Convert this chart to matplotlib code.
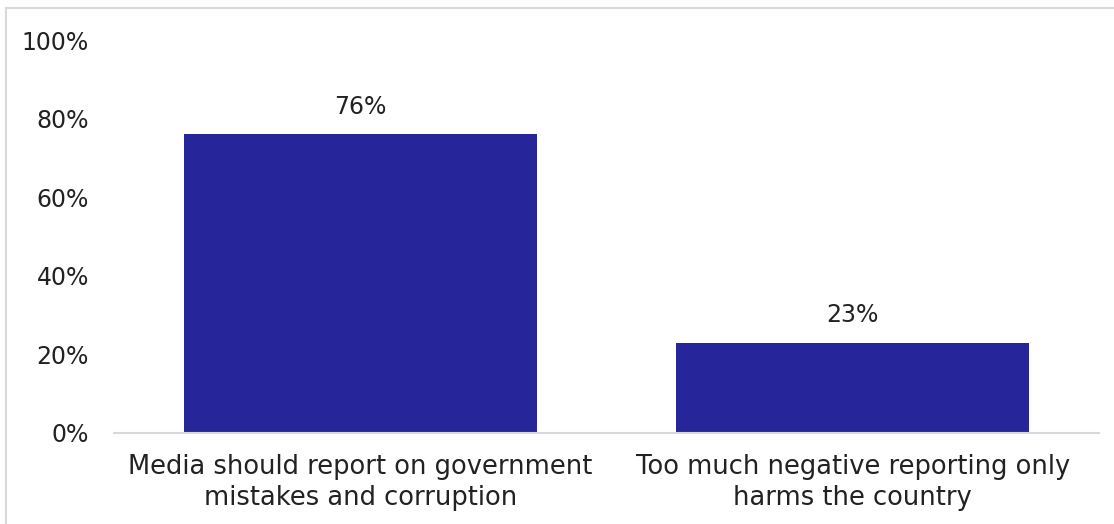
import matplotlib.pyplot as plt
from matplotlib.lines import Line2D

categories = ["Media should report on government\nmistakes and corruption",
              "Too much negative reporting only\nharms the country"]
values = [76, 23]
yticks = [0, 20, 40, 60, 80, 100]

plt.rcParams['font.family'] = ['DejaVu Sans']

fig = plt.figure(figsize=(11.14, 5.24), dpi=100)
ax = fig.add_axes([114 / 1114, 1 - 433 / 524, (1099 - 114) / 1114, (433 - 40) / 524])

x = range(len(categories))
bars = ax.bar(x, values, width=0.717, color='#26269A')
for b, v in zip(bars, values):
    ax.text(b.get_x() + b.get_width() / 2, v + 4, f"{v}%", ha='center', va='bottom',
            fontsize=17, color='#222222')

ax.set_xlim(-0.5, 1.5)
ax.set_ylim(0, 100)
ax.set_yticks(yticks)
ax.set_yticklabels([f"{t}%" for t in yticks], fontsize=17, color='#222222')
ax.set_xticks(list(x))
ax.set_xticklabels(categories, fontsize=18.5, color='#222222', linespacing=1.25)
ax.tick_params(axis='both', length=0)
ax.tick_params(axis='y', pad=18)
ax.tick_params(axis='x', pad=15)

for s in ['top', 'right', 'left']:
    ax.spines[s].set_visible(False)
ax.spines['bottom'].set_color('#d9d9d9')
ax.spines['bottom'].set_linewidth(1.5)

# light frame around the chart area
frame_color = '#d9d9d9'
fig.add_artist(Line2D([6 / 1114, 6 / 1114], [0, 1 - 8 / 524], transform=fig.transFigure,
                      color=frame_color, lw=1.5))
fig.add_artist(Line2D([6 / 1114, 1], [1 - 8 / 524, 1 - 8 / 524], transform=fig.transFigure,
                      color=frame_color, lw=1.5))

fig.savefig('out.png', dpi=100)
